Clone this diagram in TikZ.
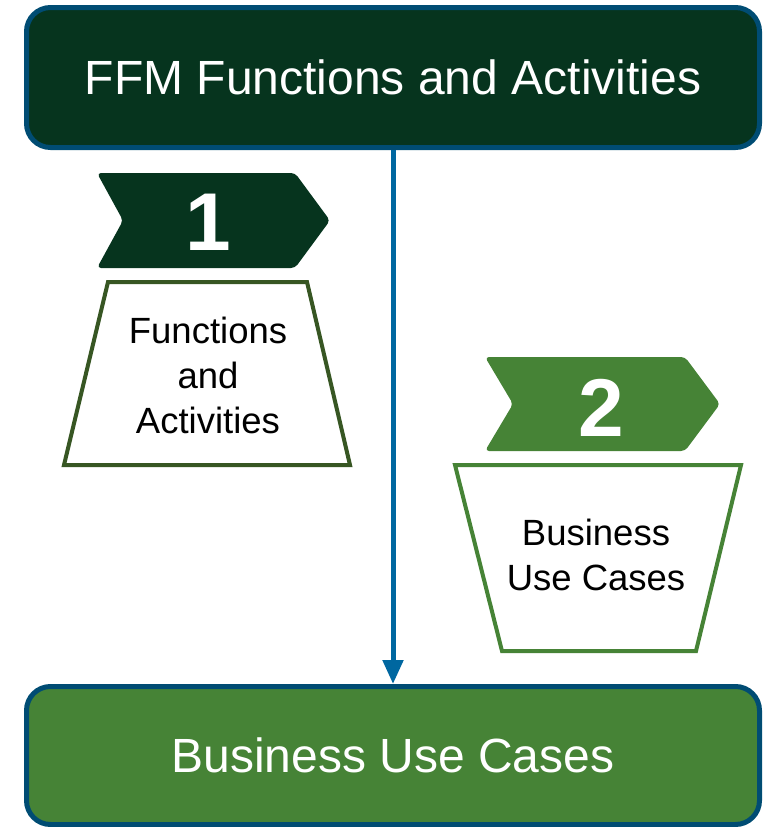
\documentclass[tikz,border=0pt]{standalone}
\usepackage{fontspec}
\setmainfont{Liberation Sans}
\usetikzlibrary{arrows.meta}

\definecolor{darkgreen}{RGB}{6,52,30}
\definecolor{midgreen}{RGB}{70,131,54}
\definecolor{olivegreen}{RGB}{55,86,35}
\definecolor{boxblue}{RGB}{0,76,115}
\definecolor{arrowblue}{RGB}{0,103,160}

\begin{document}
\begin{tikzpicture}[x=1pt,y=-1pt,
    bigbox/.style={draw=boxblue, line width=5pt, rounded corners=24pt,
        minimum width=733pt, inner sep=0pt, text=white,
        font=\fontsize{48}{56}\selectfont},
    numtag/.style={text=white, inner sep=0pt, font=\fontsize{82}{90}\selectfont\bfseries},
    cardtext/.style={align=center, inner sep=0pt, font=\fontsize{36.5}{45}\selectfont}]
    \useasboundingbox (0,0) rectangle (768,827);

    % top and bottom boxes
    \node[bigbox, fill=darkgreen, minimum height=140pt] (ffm) at (393,77.5) {FFM Functions and Activities};
    \node[bigbox, fill=midgreen, minimum height=138pt] (buc) at (393,755.5) {Business Use Cases};

    % step 1
    \fill[darkgreen, rounded corners=4pt] (97,173) -- (295,173) -- (330,220.5) -- (295,268) -- (97,268) -- (123,220.5) -- cycle;
    \node[numtag] (one) at (208,222.5) {1};
    \draw[olivegreen, line width=4pt] (108,282) -- (307,282) -- (350,465) -- (64,465) -- cycle;
    \node[cardtext] (fa) at (208,375) {Functions\\and\\Activities};

    % step 2
    \fill[midgreen, rounded corners=4pt] (485,357) -- (685,357) -- (720,404) -- (685,451) -- (485,451) -- (513,404) -- cycle;
    \node[numtag] (two) at (601,407.5) {2};
    \draw[midgreen, line width=4pt] (455,465) -- (741,465) -- (696,651) -- (502,651) -- cycle;
    \node[cardtext] (uc) at (596,555) {Business\\Use Cases};

    % flow
    \draw[arrowblue, line width=5pt, -{Triangle[length=24pt,width=20pt]}] (ffm) -- (buc);
\end{tikzpicture}
\end{document}
